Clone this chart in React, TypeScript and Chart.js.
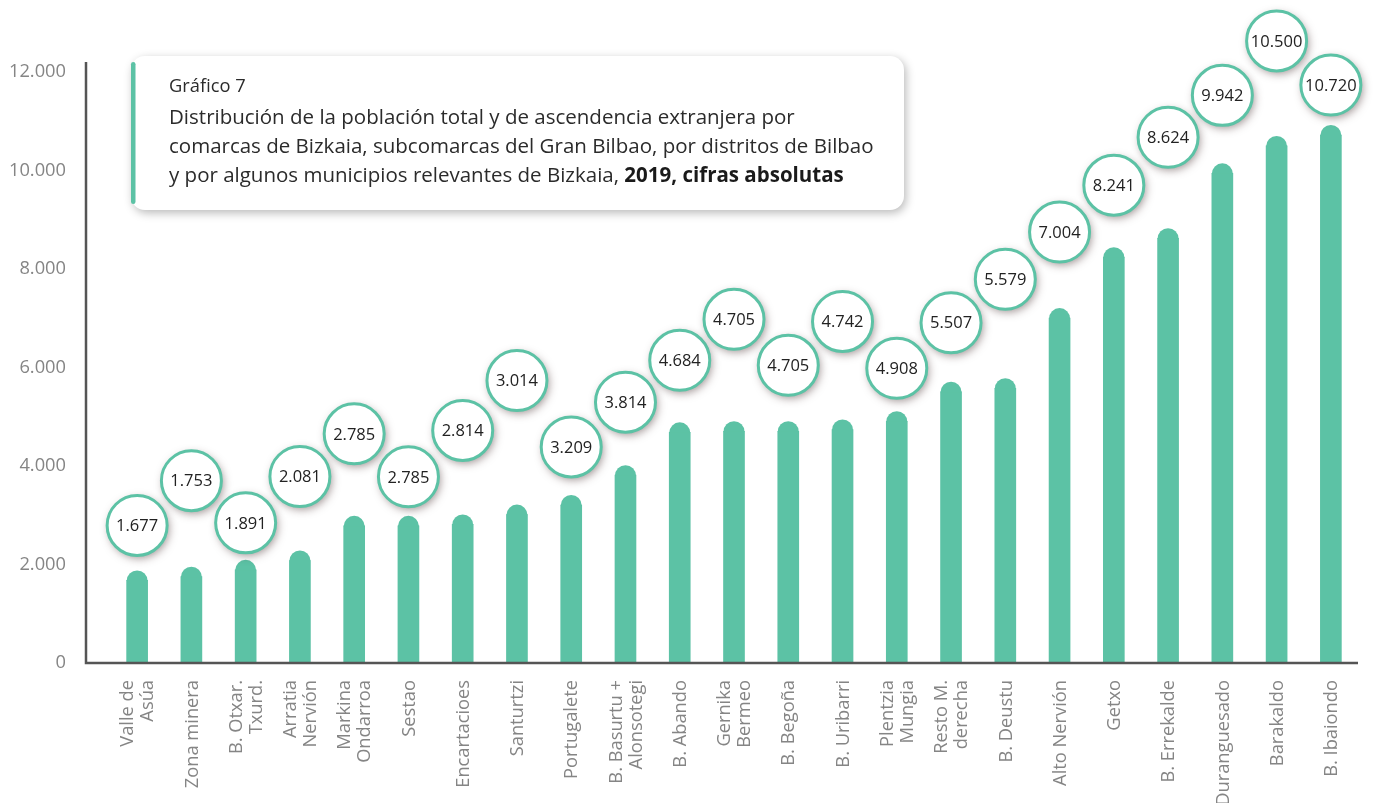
import React, { useEffect, useRef } from "react";
import { Chart, registerables } from "chart.js";

Chart.register(...registerables);

// ---------- data ----------
const categories: (string | string[])[] = [
  ["Valle de", "Asúa"],
  "Zona minera",
  ["B. Otxar.", "Txurd."],
  ["Arratia", "Nervión"],
  ["Markina", "Ondarroa"],
  "Sestao",
  "Encartacioes",
  "Santurtzi",
  "Portugalete",
  ["B. Basurtu +", "Alonsotegi"],
  "B. Abando",
  ["Gernika", "Bermeo"],
  "B. Begoña",
  "B. Uribarri",
  ["Plentzia", "Mungia"],
  ["Resto M.", "derecha"],
  "B. Deustu",
  "Alto Nervión",
  "Getxo",
  "B. Errekalde",
  "Duranguesado",
  "Barakaldo",
  "B. Ibaiondo",
];

const values: number[] = [
  1677, 1753, 1891, 2081, 2785, 2785, 2814, 3014, 3209, 3814, 4684, 4705,
  4705, 4742, 4908, 5507, 5579, 7004, 8241, 8624, 9942, 10500, 10720,
];

// vertical lift (px) of each value bubble above its bar value
const labelLift: number[] = [
  55, 96, 47, 84, 92, 49, 94, 134, 58, 73, 72, 112, 66, 108, 53, 69, 109, 86,
  72, 101, 78, 105, 50,
];

const yMin = 0;
const yMax = 12000;
const yStep = 2000;

const titleHead = "Gráfico 7";
const titleLines: string[] = [
  "Distribución de la población total y de ascendencia extranjera por",
  "comarcas de Bizkaia, subcomarcas del Gran Bilbao, por distritos de Bilbao",
  "y por algunos municipios relevantes de Bizkaia, ",
];
const titleBold = "2019, cifras absolutas";

// ---------- styles ----------
const GREEN = "#5cc2a5";
const AXIS = "#555555";
const TICK = "#858585";
const FONT = "'Open Sans', 'Noto Sans', sans-serif";

const fmt = (v: number) =>
  String(Math.round(v)).replace(/\B(?=(\d{3})+(?!\d))/g, ".");

const decorPlugin = {
  id: "decor",
  afterDatasetsDraw(chart: any) {
    const { ctx, chartArea, scales } = chart;
    const meta = chart.getDatasetMeta(0);
    const ys = scales.y;
    const xs = scales.x;

    // rounded caps on bars
    ctx.save();
    ctx.fillStyle = GREEN;
    meta.data.forEach((bar: any) => {
      const { x, y, width } = bar.getProps(["x", "y", "width"], true);
      ctx.beginPath();
      ctx.arc(x, y + 0.5, width / 2, Math.PI, 0);
      ctx.fill();
    });
    ctx.restore();

    // axis lines
    const x0 = chartArea.left - 24;
    const yBase = ys.getPixelForValue(yMin);
    const yTop = ys.getPixelForValue(yMax) - 10;
    ctx.save();
    ctx.strokeStyle = AXIS;
    ctx.lineWidth = 2.5;
    ctx.beginPath();
    ctx.moveTo(x0, yTop);
    ctx.lineTo(x0, yBase);
    ctx.lineTo(chartArea.right, yBase);
    ctx.stroke();
    ctx.restore();

    // category labels (rotated, multi-line block centred on the tick)
    ctx.save();
    ctx.fillStyle = TICK;
    ctx.font = `18.3px ${FONT}`;
    ctx.textAlign = "right";
    ctx.textBaseline = "middle";
    const lh = 20;
    categories.forEach((lab, i) => {
      const lines = Array.isArray(lab) ? lab : [lab];
      const px = xs.getPixelForTick(i);
      lines.forEach((ln, j) => {
        const dx = (j - (lines.length - 1) / 2) * lh;
        ctx.save();
        ctx.translate(px + dx + 1, chartArea.bottom + 17);
        ctx.rotate(-Math.PI / 2);
        ctx.fillText(ln, 0, 0);
        ctx.restore();
      });
    });
    ctx.restore();

    // value bubbles
    meta.data.forEach((bar: any, i: number) => {
      const { x, y } = bar.getProps(["x", "y"], true);
      const cy = y - labelLift[i];
      const r = 30;
      ctx.save();
      ctx.shadowColor = "rgba(70,45,45,0.5)";
      ctx.shadowBlur = 9;
      ctx.shadowOffsetX = 2;
      ctx.shadowOffsetY = 3;
      ctx.fillStyle = "#ffffff";
      ctx.beginPath();
      ctx.arc(x, cy, r, 0, Math.PI * 2);
      ctx.fill();
      ctx.restore();
      ctx.save();
      ctx.strokeStyle = GREEN;
      ctx.lineWidth = 3;
      ctx.beginPath();
      ctx.arc(x, cy, r, 0, Math.PI * 2);
      ctx.stroke();
      ctx.fillStyle = "#222222";
      ctx.font = `16.5px ${FONT}`;
      ctx.textAlign = "center";
      ctx.textBaseline = "middle";
      ctx.fillText(fmt(values[i]), x, cy + 1);
      ctx.restore();
    });
  },
  afterDraw(chart: any) {
    const { ctx } = chart;
    // title box
    const bx = 131, by = 56, bw = 773, bh = 154;
    ctx.save();
    ctx.shadowColor = "rgba(0,0,0,0.28)";
    ctx.shadowBlur = 10;
    ctx.shadowOffsetX = 2;
    ctx.shadowOffsetY = 3;
    ctx.fillStyle = "#ffffff";
    ctx.beginPath();
    ctx.roundRect(bx, by, bw, bh, 14);
    ctx.fill();
    ctx.restore();

    ctx.save();
    ctx.fillStyle = GREEN;
    ctx.beginPath();
    ctx.roundRect(bx, by + 6, 4.5, bh - 12, 2.25);
    ctx.fill();

    ctx.fillStyle = "#2b2b2b";
    ctx.textAlign = "left";
    ctx.textBaseline = "alphabetic";
    ctx.font = `18.3px ${FONT}`;
    ctx.fillText(titleHead, 169, 92);
    const base = [124, 153, 182];
    ctx.font = `20.5px ${FONT}`;
    titleLines.forEach((t, i) => {
      ctx.fillText(t, 169, base[i]);
    });
    const w = ctx.measureText(titleLines[2]).width;
    ctx.font = `bold 20.5px ${FONT}`;
    ctx.fillStyle = "#1a1a1a";
    ctx.fillText(titleBold, 169 + w, base[2]);
    ctx.restore();
  },
};

export default function App() {
  const ref = useRef<HTMLCanvasElement | null>(null);

  useEffect(() => {
    if (!ref.current) return;
    const chart = new Chart(ref.current, {
      type: "bar",
      data: {
        labels: categories,
        datasets: [
          {
            data: values,
            backgroundColor: GREEN,
            borderWidth: 0,
            barThickness: 21,
          },
        ],
      },
      options: {
        animation: false,
        responsive: false,
        devicePixelRatio: 1,
        layout: { padding: { top: 72, right: 19, left: 0, bottom: 0 } },
        plugins: {
          legend: { display: false },
          tooltip: { enabled: false },
          title: { display: false },
        },
        scales: {
          x: {
            grid: { display: false, drawTicks: false },
            border: { display: false },
            ticks: { display: false, autoSkip: false },
            afterFit: (s: any) => {
              s.height = 140;
            },
          },
          y: {
            min: yMin,
            max: yMax,
            grid: { display: false, drawTicks: false },
            border: { display: false },
            ticks: {
              stepSize: yStep,
              padding: 44,
              color: TICK,
              font: { family: FONT, size: 18.3 },
              callback: (v: any) => fmt(Number(v)),
            },
            afterFit: (s: any) => {
              s.width = 110;
            },
          },
        },
      },
      plugins: [decorPlugin],
    });
    return () => chart.destroy();
  }, []);

  return (
    <div
      style={{
        position: "fixed",
        left: 0,
        top: 0,
        width: 1377,
        height: 803,
        background: "#ffffff",
      }}
    >
      <canvas ref={ref} width={1377} height={803} />
    </div>
  );
}
